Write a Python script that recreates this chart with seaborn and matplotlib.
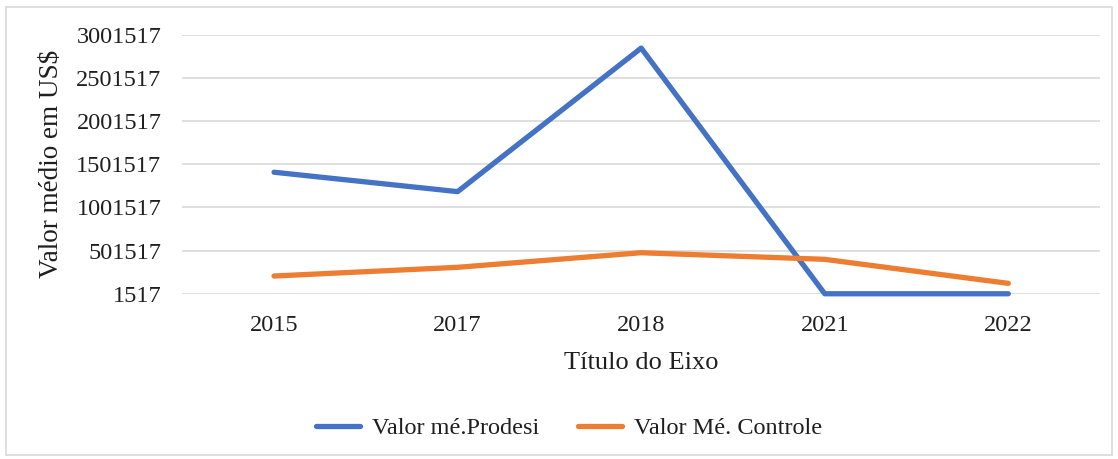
import matplotlib
matplotlib.use("Agg")
import matplotlib.pyplot as plt
import seaborn as sns
import pandas as pd
from matplotlib.patches import Rectangle
from matplotlib.lines import Line2D

years = ["2015", "2017", "2018", "2021", "2022"]
prodesi = [1410000, 1185000, 2848500, 1517, 1517]
controle = [207000, 308000, 477000, 400500, 122000]
series_names = ["Valor mé.Prodesi", "Valor Mé. Controle"]
yticks = [1517, 501517, 1001517, 1501517, 2001517, 2501517, 3001517]

df = pd.DataFrame({
    "Ano": years * 2,
    "Valor": prodesi + controle,
    "Série": [series_names[0]] * len(years) + [series_names[1]] * len(years),
})

sns.set_theme(style="white")
plt.rcParams["font.family"] = ["Liberation Serif", "DejaVu Serif"]

fig = plt.figure(figsize=(11.18, 4.59), dpi=100)
ax = fig.add_axes([0.163, 0.36, 0.821, 0.564])

sns.lineplot(data=df, x="Ano", y="Valor", hue="Série", sort=False,
             palette=["#4472C4", "#ED7D31"], linewidth=3.8, ax=ax,
             legend=False, solid_capstyle="round", clip_on=False)

ax.set_xlim(-0.5, len(years) - 0.5)
ax.set_ylim(yticks[0], yticks[-1])
ax.set_yticks(yticks)
ax.set_yticklabels([str(t) for t in yticks])
ax.yaxis.grid(True, color="#D9D9D9", linewidth=1.2)
ax.xaxis.grid(False)
ax.set_axisbelow(True)
for s in ax.spines.values():
    s.set_visible(False)
ax.tick_params(axis="y", length=0, pad=15, labelsize=17.5, colors="#1f1f1f")
ax.tick_params(axis="x", length=0, pad=15.5, labelsize=17.5, colors="#1f1f1f")
ax.set_xlabel("Título do Eixo", fontsize=19, color="#1f1f1f", labelpad=11)
ax.set_ylabel("Valor médio em US\\$", fontsize=19.5, color="#1f1f1f", labelpad=9)

handles = [Line2D([], [], color="#4472C4", linewidth=3.8, solid_capstyle="round"),
           Line2D([], [], color="#ED7D31", linewidth=3.8, solid_capstyle="round")]
fig.legend(handles, series_names, loc="center", bbox_to_anchor=(0.509, 1 - 428 / 459),
           ncol=2, frameon=False, fontsize=17.5, handlelength=1.8, handletextpad=0.5,
           columnspacing=1.6, labelcolor="#1f1f1f")

fig.patches.append(Rectangle((6 / 1118, 4 / 459), 1 - 12 / 1118, 1 - 11 / 459,
                             transform=fig.transFigure, fill=False,
                             edgecolor="#D9D9D9", linewidth=1.2))

fig.savefig("out.png", dpi=100, facecolor="white")
